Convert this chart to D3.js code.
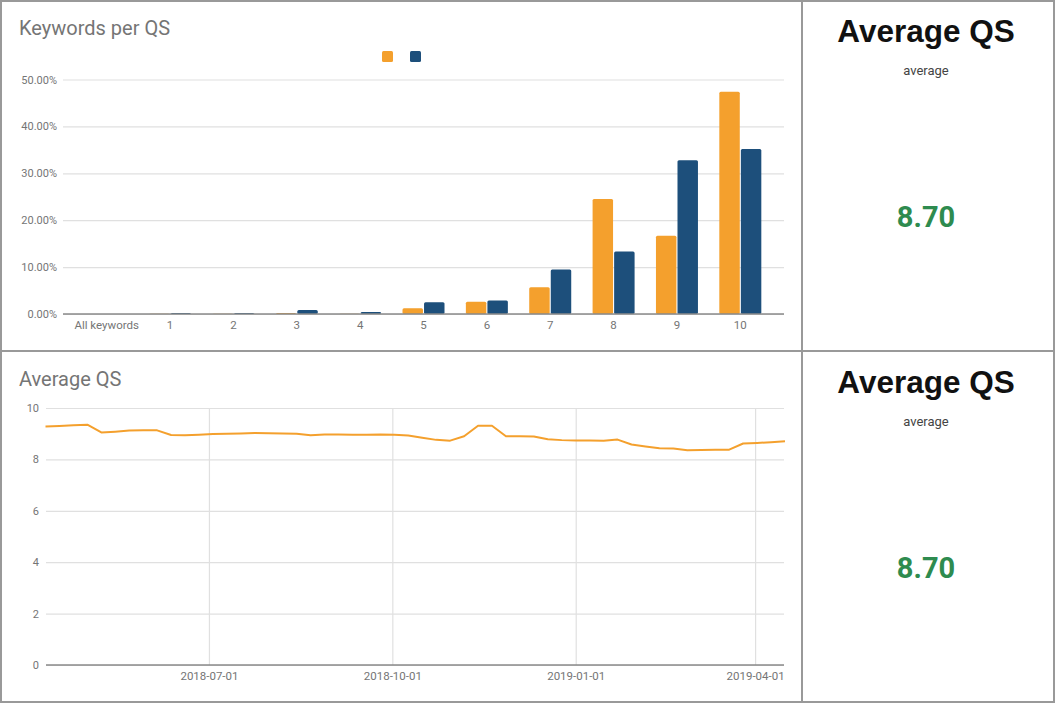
<!DOCTYPE html>
<html>
<head>
<meta charset="utf-8">
<script src="https://cdn.jsdelivr.net/npm/d3@7"></script>
<style>
  body { margin: 0; background: #fff; }
</style>
</head>
<body>
<div class="chart"></div>
<script>
// bar chart data (share of keywords per quality score)
const qsCategories = ["All keywords", "1", "2", "3", "4", "5", "6", "7", "8", "9", "10"];
const seriesA = [0, 0.05, 0.05, 0.2, 0.05, 1.2, 2.6, 5.7, 24.5, 16.7, 47.4];
const seriesB = [0, 0.2, 0.2, 0.85, 0.45, 2.5, 2.9, 9.5, 13.3, 32.8, 35.2];
const pctTicks = [0, 10, 20, 30, 40, 50];

// line chart data (weekly average QS)
const weekStart = "2018-04-10";
const avgQS = [9.28, 9.30, 9.33, 9.35, 9.05, 9.08, 9.12, 9.13, 9.13, 8.95,
               8.94, 8.96, 8.99, 9.00, 9.01, 9.03, 9.02, 9.01, 9.00, 8.94,
               8.97, 8.97, 8.96, 8.96, 8.97, 8.96, 8.93, 8.84, 8.76, 8.73,
               8.90, 9.31, 9.31, 8.90, 8.90, 8.89, 8.78, 8.75, 8.74, 8.74,
               8.73, 8.77, 8.58, 8.50, 8.43, 8.42, 8.36, 8.37, 8.38, 8.38,
               8.62, 8.64, 8.67, 8.71];
const qsTicks = [0, 2, 4, 6, 8, 10];
const dateTicks = ["2018-07-01", "2018-10-01", "2019-01-01", "2019-04-01"];
const scorecardValue = 8.70;

const W = 1057, H = 705;
const orange = "#f4a02d", navy = "#1d4f7b", grid = "#e0e0e0", label = "#757575";
const roboto = "Roboto, 'Noto Sans', sans-serif";

const svg = d3.select(".chart").append("svg")
    .attr("width", W)
    .attr("height", H)
    .attr("font-family", roboto);

// panel borders
const borders = svg.append("g")
    .attr("fill", "none")
    .attr("stroke", "#999")
    .attr("stroke-width", 2);
borders.append("rect").attr("x", 1).attr("y", 1).attr("width", 1053).attr("height", 701);
borders.append("line").attr("x1", 802).attr("x2", 802).attr("y1", 1).attr("y2", 702);
borders.append("line").attr("x1", 1).attr("x2", 1054).attr("y1", 351).attr("y2", 351);

// ---------- Keywords per QS ----------
const bar = svg.append("g");

bar.append("text")
    .attr("x", 19)
    .attr("y", 35)
    .attr("font-size", "20px")
    .attr("fill", label)
    .text("Keywords per QS");

const xBand = d3.scaleBand()
    .domain(qsCategories)
    .range([75, 772]);

const xInner = d3.scaleBand()
    .domain(["a", "b"])
    .range([0, 42])
    .paddingInner(0.05);

const yPct = d3.scaleLinear()
    .domain([0, 50])
    .range([314, 79.5]);

bar.append("g")
    .attr("transform", "translate(57,0)")
    .call(d3.axisLeft(yPct).tickValues(pctTicks).tickSize(0).tickPadding(0)
        .tickFormat(d => d.toFixed(2) + "%"))
    .call(g => g.select(".domain").remove())
    .call(g => g.selectAll("text").attr("fill", label).attr("font-size", "11px")
        .attr("font-family", roboto))
    .call(g => g.selectAll(".tick line").clone()
        .attr("x1", 6).attr("x2", 727)
        .attr("stroke", grid).attr("stroke-width", 1.2));

bar.append("g")
    .attr("transform", "translate(0,314)")
    .call(d3.axisBottom(xBand).tickSize(0).tickPadding(7))
    .call(g => g.select(".domain").remove())
    .call(g => g.selectAll("text").attr("fill", label).attr("font-size", "11.5px")
        .attr("font-family", roboto));

const groups = bar.append("g")
    .selectAll("g")
    .data(qsCategories.map((c, i) => ({cat: c, a: seriesA[i], b: seriesB[i]})))
    .join("g")
    .attr("transform", d => `translate(${xBand(d.cat) + xBand.bandwidth() / 2 - 21},0)`);

groups.selectAll("rect")
    .data(d => [{k: "a", v: d.a}, {k: "b", v: d.b}].filter(e => e.v > 0))
    .join("rect")
    .attr("x", d => xInner(d.k))
    .attr("width", xInner.bandwidth())
    .attr("y", d => yPct(d.v))
    .attr("height", d => yPct(0) - yPct(d.v))
    .attr("rx", 1.5)
    .attr("fill", d => d.k === "a" ? orange : navy);

bar.append("line")
    .attr("x1", 63).attr("x2", 784)
    .attr("y1", yPct(0)).attr("y2", yPct(0))
    .attr("stroke", "#8a8a8a")
    .attr("stroke-width", 1.5);

// legend swatches
bar.append("g")
    .selectAll("rect")
    .data([orange, navy])
    .join("rect")
    .attr("x", (d, i) => 382 + i * 28)
    .attr("y", 51)
    .attr("width", 11)
    .attr("height", 11)
    .attr("rx", 1.5)
    .attr("fill", d => d);

// ---------- Average QS over time ----------
const parse = d3.timeParse("%Y-%m-%d");
const t0 = parse(weekStart);
const series = avgQS.map((v, i) => ({date: d3.timeDay.offset(t0, i * 7), v: v}));

const line = svg.append("g");

line.append("text")
    .attr("x", 19)
    .attr("y", 386)
    .attr("font-size", "20px")
    .attr("fill", label)
    .text("Average QS");

const xTime = d3.scaleTime()
    .domain(d3.extent(series, d => d.date))
    .range([45.5, 785]);

const yQS = d3.scaleLinear()
    .domain([0, 10])
    .range([665, 408]);

line.append("g")
    .attr("transform", "translate(39,0)")
    .call(d3.axisLeft(yQS).tickValues(qsTicks).tickSize(0).tickPadding(0))
    .call(g => g.select(".domain").remove())
    .call(g => g.selectAll("text").attr("fill", label).attr("font-size", "11px")
        .attr("font-family", roboto))
    .call(g => g.selectAll(".tick line").clone()
        .attr("x1", 7).attr("x2", 745)
        .attr("stroke", grid).attr("stroke-width", 1.2));

line.append("g")
    .attr("transform", "translate(0,665)")
    .call(d3.axisBottom(xTime).tickValues(dateTicks.map(parse)).tickSize(0).tickPadding(7)
        .tickFormat(d3.timeFormat("%Y-%m-%d")))
    .call(g => g.select(".domain").remove())
    .call(g => g.selectAll("text").attr("fill", label).attr("font-size", "11.5px")
        .attr("font-family", roboto))
    .call(g => g.selectAll(".tick line").clone()
        .attr("y1", 0).attr("y2", -257)
        .attr("stroke", grid).attr("stroke-width", 1.2));

line.append("line")
    .attr("x1", 46).attr("x2", 784)
    .attr("y1", yQS(0)).attr("y2", yQS(0))
    .attr("stroke", "#8a8a8a")
    .attr("stroke-width", 1.5);

line.append("path")
    .datum(series)
    .attr("fill", "none")
    .attr("stroke", orange)
    .attr("stroke-width", 2)
    .attr("stroke-linejoin", "round")
    .attr("d", d3.line().x(d => xTime(d.date)).y(d => yQS(d.v)));

// ---------- scorecards ----------
[0, 351].forEach(dy => {
    const card = svg.append("g").attr("transform", `translate(926,${dy})`)
        .attr("text-anchor", "middle");
    card.append("text")
        .attr("y", 42)
        .attr("font-family", "'Liberation Sans', Arial, sans-serif")
        .attr("font-weight", "bold")
        .attr("font-size", "31.5px")
        .attr("fill", "#111")
        .text("Average QS");
    card.append("text")
        .attr("y", 75)
        .attr("font-size", "13px")
        .attr("fill", "#444")
        .text("average");
    card.append("text")
        .attr("y", 227)
        .attr("font-weight", "bold")
        .attr("font-size", "29px")
        .attr("fill", "#2e8b4f")
        .text(scorecardValue.toFixed(2));
});
</script>
</body>
</html>
